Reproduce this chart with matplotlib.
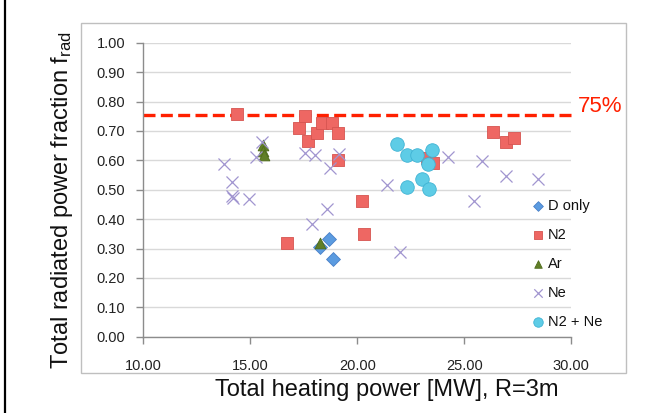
import matplotlib
matplotlib.use('Agg')
import matplotlib.pyplot as plt
from matplotlib.patches import Rectangle
from matplotlib.lines import Line2D

plt.rcParams['font.family'] = ['Liberation Sans', 'DejaVu Sans']
plt.rcParams['mathtext.fontset'] = 'custom'
plt.rcParams['mathtext.rm'] = 'Liberation Sans'
plt.rcParams['mathtext.it'] = 'Liberation Sans:italic'

# ---- data ----
d_only_x = [18.69, 18.88, 18.26]
d_only_y = [0.331, 0.263, 0.306]

n2_x = [14.36, 17.56, 17.29, 17.71, 18.10, 18.36, 18.80, 19.08, 19.11,
        20.21, 20.31, 16.70, 23.24, 23.55, 26.36, 26.93, 27.32]
n2_y = [0.757, 0.751, 0.709, 0.667, 0.692, 0.726, 0.726, 0.692, 0.601,
        0.460, 0.349, 0.318, 0.607, 0.590, 0.697, 0.661, 0.677]

ar_x = [15.58, 15.61, 15.64, 18.26]
ar_y = [0.652, 0.632, 0.618, 0.318]

ne_x = [13.77, 14.16, 14.16, 14.19, 14.95, 15.27, 15.53, 17.56, 18.02, 19.16,
        18.72, 18.58, 17.90, 21.37, 22.00, 24.22, 25.45, 25.81, 26.93, 28.43]
ne_y = [0.588, 0.527, 0.480, 0.472, 0.467, 0.610, 0.663, 0.624, 0.618, 0.621,
        0.573, 0.434, 0.383, 0.516, 0.289, 0.612, 0.462, 0.598, 0.548, 0.535]

n2ne_x = [21.85, 22.31, 22.79, 23.50, 23.32, 22.32, 23.01, 23.35]
n2ne_y = [0.654, 0.617, 0.618, 0.635, 0.586, 0.510, 0.535, 0.502]

threshold = 0.755
threshold_label = '75%'

x_ticks = [10, 15, 20, 25, 30]
y_ticks = [0.0, 0.1, 0.2, 0.3, 0.4, 0.5, 0.6, 0.7, 0.8, 0.9, 1.0]

series_labels = ['D only', 'N2', 'Ar', 'Ne', 'N2 + Ne']

# ---- figure ----
W, H = 658, 413
fig = plt.figure(figsize=(W / 100, H / 100), dpi=100)
fig.patch.set_facecolor('white')

ax_l, ax_r, ax_t, ax_b = 143.3, 571.3, 42.7, 336.7
ax = fig.add_axes([ax_l / W, 1 - ax_b / H, (ax_r - ax_l) / W, (ax_b - ax_t) / H])
ax.set_xlim(10, 30)
ax.set_ylim(0, 1.0)
ax.set_xticks(x_ticks)
ax.set_xticklabels([f'{v:.2f}' for v in x_ticks])
ax.set_yticks(y_ticks)
ax.set_yticklabels([f'{v:.2f}' for v in y_ticks])
ax.grid(axis='y', color='#D9D9D9', lw=1.0)
ax.set_axisbelow(True)
for s in ['top', 'right']:
    ax.spines[s].set_visible(False)
for s in ['left', 'bottom']:
    ax.spines[s].set_color('#8C8C8C')
    ax.spines[s].set_linewidth(1.0)
ax.tick_params(axis='both', colors='#8C8C8C', length=5, width=1, labelsize=10.5,
               labelcolor='#222222')
ax.tick_params(axis='x', pad=11)
ax.tick_params(axis='y', pad=8)

# threshold line
ax.plot([10, 30.2], [threshold, threshold], color='#FF2000', lw=2.4,
        dashes=(3.6, 1.6), clip_on=False, zorder=2)

h1 = ax.scatter(d_only_x, d_only_y, marker='D', s=50, facecolor='#5B9BE0',
                edgecolor='#4A80C8', linewidth=0.6, zorder=3, label=series_labels[0])
h2 = ax.scatter(n2_x, n2_y, marker='s', s=85, facecolor='#EE6763',
                edgecolor='#D65450', linewidth=0.6, zorder=3, label=series_labels[1])
h3 = ax.scatter(ar_x, ar_y, marker='^', s=60, facecolor='#617F27',
                edgecolor='#4F6B1C', linewidth=0.6, zorder=4, label=series_labels[2])
h4 = ax.scatter(ne_x, ne_y, marker='x', s=75, color='#A195D0',
                linewidth=0.9, zorder=5, label=series_labels[3])
h5 = ax.scatter(n2ne_x, n2ne_y, marker='o', s=95, facecolor='#5ECCE6',
                edgecolor='#3FB3D4', linewidth=0.6, zorder=3, label=series_labels[4])

leg = ax.legend(handles=[h1, h2, h3, h4, h5], loc='upper left',
                bbox_to_anchor=(530.7 / W, 1 - 199 / H), bbox_transform=fig.transFigure,
                frameon=False, fontsize=10.5, handletextpad=0.2, handlelength=1.0,
                labelspacing=1.03, borderpad=0, borderaxespad=0, markerscale=0.7,
                scatterpoints=1)
for t in leg.get_texts():
    t.set_color('#111111')

# threshold label
fig.text(578 / W, 1 - 106 / H, threshold_label, color='#FF2000', fontsize=16,
         ha='left', va='center')

# axis titles
fig.text(62 / W, 1 - 200 / H, 'Total radiated power fraction f$_{\\mathrm{rad}}$',
         rotation=90, ha='center', va='center', fontsize=17, color='#111111')
fig.text(387 / W, 1 - 390 / H, 'Total heating power [MW], R=3m',
         ha='center', va='center', fontsize=17, color='#111111')

# chart border and slide edge
fig.add_artist(Rectangle((81 / W, 1 - 373 / H), 545 / W, 350 / H,
                         transform=fig.transFigure, fill=False,
                         edgecolor='#BFBFBF', lw=1.0))
fig.add_artist(Line2D([4.5 / W, 4.5 / W], [0, 1], transform=fig.transFigure,
                      color='black', lw=1.6))

fig.savefig('out.png', dpi=100)
